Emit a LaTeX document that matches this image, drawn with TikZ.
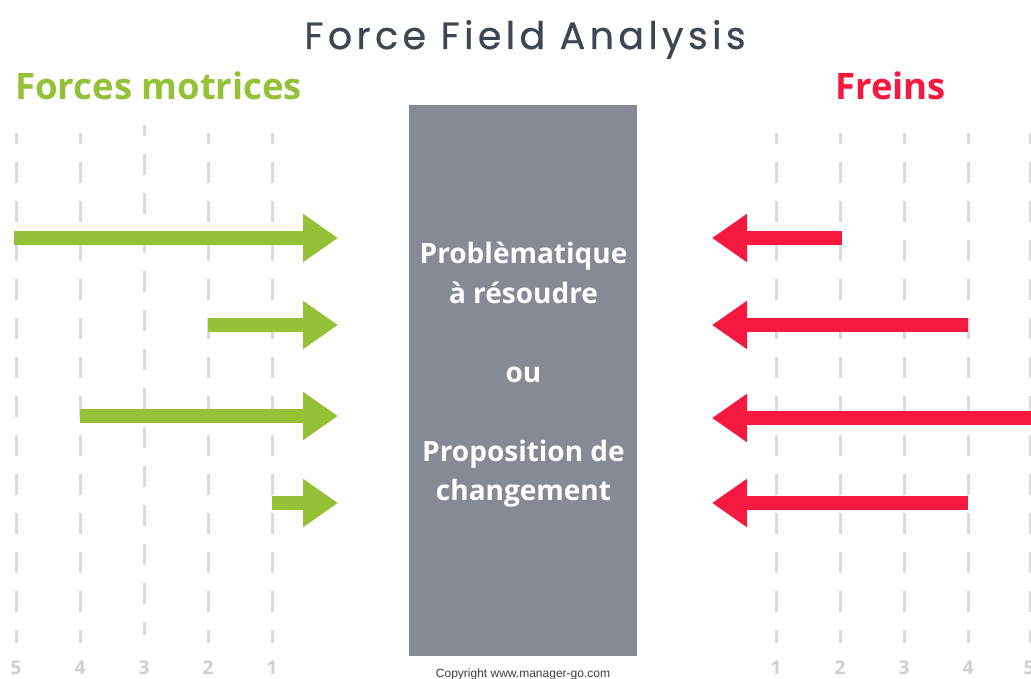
\documentclass[tikz,border=0pt]{standalone}
\usepackage{fontspec}
\usetikzlibrary{arrows.meta}
\newfontfamily\osans{Open Sans}
\newfontfamily\popfont[LetterSpace=11.5,FakeBold=0.6]{Poppins}
\newfontfamily\libsans{Liberation Sans}
\definecolor{fgreen}{HTML}{94C135}
\definecolor{fred}{HTML}{F5183F}
\definecolor{boxgray}{HTML}{858A95}
\definecolor{titlegray}{HTML}{3E4553}
\definecolor{dashgray}{HTML}{DADADA}
\definecolor{numgray}{HTML}{D0D0D0}
\tikzset{
  scaleline/.style={draw=dashgray, line width=3pt, dash pattern=on 21pt off 18pt, dash phase=10pt},
  forcearrow/.style={line width=14pt, line cap=butt, -{Triangle[length=35pt,width=46pt]}},
  greenarrow/.style={forcearrow, draw=fgreen, fill=fgreen},
  redarrow/.style={forcearrow, draw=fred, fill=fred},
  numlabel/.style={anchor=base, text=numgray, font=\osans\bfseries\fontsize{19}{19}\selectfont, inner sep=0pt},
  boxtext/.style={anchor=base, text=white, font=\osans\bfseries\fontsize{28}{28}\selectfont, inner sep=0pt},
  headlabel/.style={anchor=base, font=\osans\bfseries\fontsize{36.5}{36.5}\selectfont, inner sep=0pt},
}
\begin{document}
\begin{tikzpicture}[x=1pt,y=-1pt]
\useasboundingbox[fill=white] (0,0) rectangle (1031,679);
% dashed scale lines
\foreach \x/\s in {16/133,80/133,144/125,208/133,272/133,776/133,840/133,904/133,968/133,1030/133}{
  \draw[scaleline] (\x,\s) -- (\x,\s+510);
}
% numbers
\foreach \x/\n in {16/5,80/4,144/3,208/2,272/1,776/1,840/2,904/3,968/4,1029/5}{
  \node[numlabel] (n\x) at (\x,674) {\n};
}
% central box
\node[fill=boxgray, minimum width=228pt, minimum height=551pt, inner sep=0pt, anchor=north west] (box) at (409,105) {};
\node[boxtext] (t1) at (523.5,263) {Problèmatique};
\node[boxtext] (t2) at (523.5,303) {à résoudre};
\node[boxtext] (t3) at (523.5,382) {ou};
\node[boxtext] (t4) at (523.5,461) {Proposition de};
\node[boxtext] (t5) at (523.5,500) {changement};
% title and headings
\node[anchor=base, text=titlegray, font=\popfont\fontsize{38}{38}\selectfont, inner sep=0pt] (title) at (525,49) {Force Field Analysis};
\node[headlabel, anchor=base west, text=fgreen] (left) at (15,100) {Forces motrices};
\node[headlabel, anchor=base west, text=fred] (right) at (835,100) {Freins};
\node[anchor=base, text=black!75, font=\libsans\fontsize{12}{12}\selectfont, inner sep=0pt] (copy) at (523,677) {Copyright www.manager-go.com};
% arrow coordinates
\coordinate (g1s) at (14,238);  \coordinate (g1e) at (338,238);
\coordinate (g2s) at (208,325); \coordinate (g2e) at (338,325);
\coordinate (g3s) at (80,416);  \coordinate (g3e) at (338,416);
\coordinate (g4s) at (272,503); \coordinate (g4e) at (338,503);
\coordinate (r1s) at (842,238); \coordinate (r1e) at (712,238);
\coordinate (r2s) at (968,325); \coordinate (r2e) at (712,325);
\coordinate (r3s) at (1031,418); \coordinate (r3e) at (712,418);
\coordinate (r4s) at (968,503); \coordinate (r4e) at (712,503);
\foreach \i in {1,2,3,4}{
  \draw[greenarrow] (g\i s) -- (g\i e);
  \draw[redarrow] (r\i s) -- (r\i e);
}
\end{tikzpicture}
\end{document}
